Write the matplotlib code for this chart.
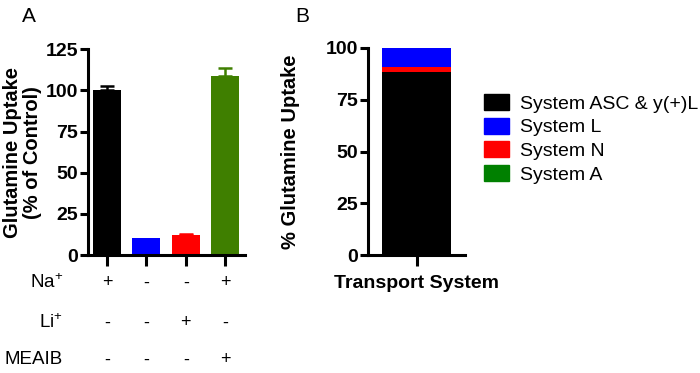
import matplotlib
matplotlib.use("Agg")
import matplotlib.pyplot as plt
from matplotlib.patches import Patch

plt.rcParams['font.family'] = ['Liberation Sans', 'DejaVu Sans']
plt.rcParams['mathtext.default'] = 'regular'

# Panel A data
conditions = ["Control", "Na-free", "Li", "MEAIB"]
uptake = [100.4, 10.3, 12.2, 108.5]
uptake_err = [2.5, 0.0, 0.6, 5.3]
bar_colors = ["#000000", "#0000FF", "#FF0000", "#3F7F00"]
row_labels = ["Na$^{+}$", "Li$^{+}$", "MEAIB"]
row_values = [["+", "-", "-", "+"],
              ["-", "-", "+", "-"],
              ["-", "-", "-", "+"]]

# Panel B data
systems = ["System ASC & y(+)L", "System L", "System N", "System A"]
system_share = [88.5, 9.0, 2.5, 0.0]
system_colors = ["#000000", "#0000FF", "#FF0000", "#008000"]
stack_order = [0, 2, 1, 3]  # ASC, N, L, A from bottom up

fig = plt.figure(figsize=(7.0, 3.73), dpi=100)

W, H = 700, 373
def rect(l, r, b, t):
    return [l / W, 1 - b / H, (r - l) / W, (b - t) / H]

# ---------- Panel A ----------
axA = fig.add_axes(rect(88, 245, 255, 49.3))
x = list(range(len(conditions)))
for xi, v, e, c in zip(x, uptake, uptake_err, bar_colors):
    axA.bar(xi, v, width=0.71, color=c, zorder=2)
    if e > 0:
        axA.errorbar(xi, v, yerr=[[0], [e]], color=c, capsize=5,
                     elinewidth=1.8, capthick=1.8, zorder=3)
axA.set_xlim(-0.48, 3.5)
axA.set_ylim(0, 125)
axA.set_yticks([0, 25, 50, 75, 100, 125])
axA.set_xticks(x)
axA.set_xticklabels([])
axA.set_ylabel("Glutamine Uptake\n(% of Control)", fontsize=14.5, fontweight='bold',
               linespacing=1.1)
axA.yaxis.set_label_coords(-0.29, 0.5)
for s in ['top', 'right']:
    axA.spines[s].set_visible(False)
for s in ['left', 'bottom']:
    axA.spines[s].set_linewidth(2.2)
axA.tick_params(axis='y', width=2.2, length=6, labelsize=14, pad=1)
axA.tick_params(axis='x', width=2.2, length=8)
for lab in axA.get_yticklabels():
    lab.set_fontweight('bold')

trans = axA.get_xaxis_transform()
row_y = [-0.136, -0.33, -0.51]
for lbl, vals, yy in zip(row_labels, row_values, row_y):
    axA.text(-1.12, yy, lbl, transform=trans, ha='right', va='center', fontsize=13.5)
    for xi, v in zip(x, vals):
        axA.text(xi, yy, v, transform=trans, ha='center', va='center', fontsize=13)

fig.text(29 / W, 1 - 17 / H, "A", fontsize=15, ha='center', va='center')

# ---------- Panel B ----------
axB = fig.add_axes(rect(368, 465, 255, 48))
bottom = 0
for i in stack_order:
    axB.bar(0, system_share[i], bottom=bottom, width=1.0, color=system_colors[i], zorder=2)
    bottom += system_share[i]
axB.set_xlim(-0.71, 0.70)
axB.set_ylim(0, 100)
axB.set_yticks([0, 25, 50, 75, 100])
axB.set_xticks([0])
axB.set_xticklabels([])
axB.set_xlabel("Transport System", fontsize=14, fontweight='bold', labelpad=3)
axB.set_ylabel("% Glutamine Uptake", fontsize=14.5, fontweight='bold')
axB.yaxis.set_label_coords(-0.70, 0.5)
for s in ['top', 'right']:
    axB.spines[s].set_visible(False)
for s in ['left', 'bottom']:
    axB.spines[s].set_linewidth(2.2)
axB.tick_params(axis='y', width=2.2, length=6, labelsize=14, pad=1)
axB.tick_params(axis='x', width=2.2, length=8)
for lab in axB.get_yticklabels():
    lab.set_fontweight('bold')

fig.text(302 / W, 1 - 17 / H, "B", fontsize=15, ha='center', va='center')

handles = [Patch(facecolor=c, edgecolor=c) for c in system_colors]
fig.legend(handles, systems, loc='upper left',
           bbox_to_anchor=(484 / W, 1 - 94 / H), frameon=False,
           fontsize=14, handlelength=1.3, handleheight=0.9,
           handletextpad=0.55, labelspacing=0.25, borderpad=0, borderaxespad=0)

fig.savefig("out.png", dpi=100)
